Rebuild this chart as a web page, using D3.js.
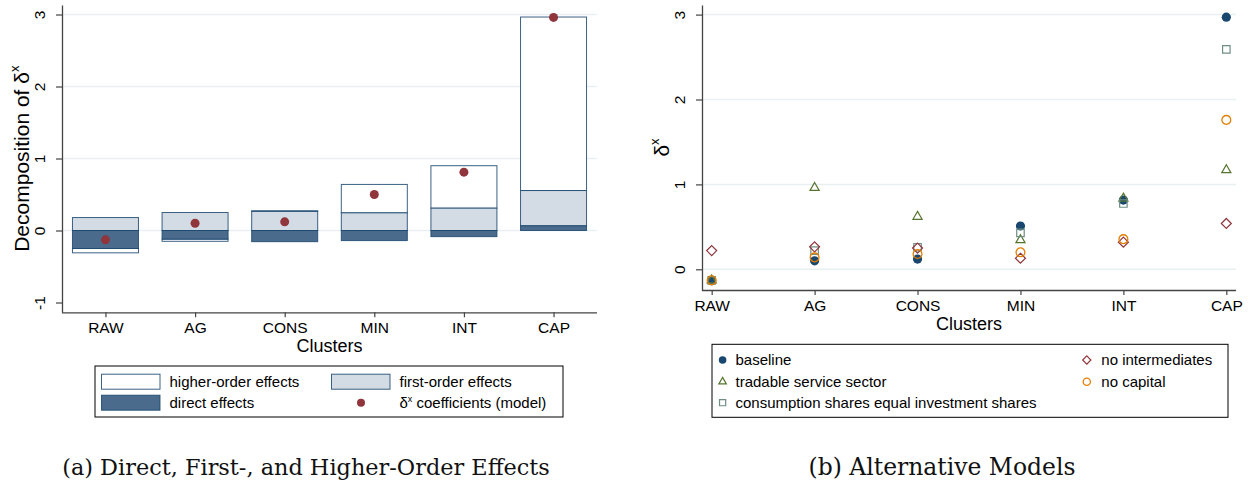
<!DOCTYPE html>
<html><head><meta charset="utf-8">
<script src="https://cdn.jsdelivr.net/npm/d3@7"></script>
<style>body{margin:0;background:#fff} svg{display:block}</style>
</head><body>
<svg id="c" width="1248" height="485"></svg>
<script>
// ---------- data ----------
const clusters = ["RAW", "AG", "CONS", "MIN", "INT", "CAP"];
// panel (a)
const directEffects      = [-0.25, -0.12, -0.155, -0.14, -0.085, 0.065];
const firstOrderEffects  = [0.18, 0.25, 0.265, 0.245, 0.31, 0.49];
const higherOrderEffects = [-0.06, -0.03, 0.01, 0.395, 0.59, 2.41];
const coefficients       = [-0.13, 0.10, 0.12, 0.50, 0.81, 2.96];
const leftYTicks = [-1, 0, 1, 2, 3];
// panel (b)
const baselineModel     = [-0.134, 0.10, 0.12, 0.51, 0.815, 2.97];
const tradableService   = [-0.13, 0.96, 0.62, 0.345, 0.835, 1.17];
const consumptionShares = [-0.13, 0.22, 0.26, 0.43, 0.775, 2.59];
const noIntermediates   = [0.22, 0.265, 0.25, 0.13, 0.32, 0.54];
const noCapital         = [-0.13, 0.14, 0.18, 0.20, 0.355, 1.76];
const rightYTicks = [0, 1, 2, 3];

// ---------- styles ----------
const FONT = "'Liberation Sans', Arial, Helvetica, sans-serif";
const SERIF = "'DejaVu Serif', 'Liberation Serif', serif";
const navy = "#1a476f", dark = "#4a6b8b", light = "#d3dce5", maroon = "#90353b";
const green = "#55752f", teal = "#6e8e84", orange = "#e37e00";
const gridCol = "#e8f0f2", axisCol = "#444";

const svg = d3.select("#c");

function styleAxis(g) {
  g.select(".domain").attr("stroke", axisCol).attr("stroke-width", 1.3);
  g.selectAll(".tick line").attr("stroke", axisCol).attr("stroke-width", 1.2);
  g.selectAll("text").attr("font-family", FONT).attr("font-size", 15.5).attr("fill", "#000");
}

function drawFrame(opts) {
  const { x, y, yTicks, gridTicks, left, bottom, yLabel, yLabelX, clustersY } = opts;
  const top = y.range()[1];
  const right = x.range()[1];
  // grid
  svg.append("g").selectAll("line").data(gridTicks).join("line")
    .attr("x1", left).attr("x2", right)
    .attr("y1", d => y(d)).attr("y2", d => y(d))
    .attr("stroke", gridCol).attr("stroke-width", 1.5);
  // y axis
  const ya = svg.append("g").attr("transform", `translate(${left},0)`)
    .call(d3.axisLeft(y).tickValues(yTicks).tickSize(6).tickSizeOuter(0).tickFormat(d => String(d)));
  styleAxis(ya);
  ya.selectAll(".tick text").attr("transform", "rotate(-90)")
    .attr("x", 0).attr("y", -17).attr("dy", 0).attr("text-anchor", "middle");
  // x axis
  const xa = svg.append("g").attr("transform", `translate(0,${bottom})`)
    .call(d3.axisBottom(x).tickSize(5).tickSizeOuter(0));
  styleAxis(xa);
  xa.select(".domain").attr("d", `M${left},0.5H${right}`);
  xa.selectAll(".tick text").attr("y", 20.5).attr("dy", 0);
  // titles
  svg.append("text").attr("x", (left + right) / 2).attr("y", clustersY)
    .attr("text-anchor", "middle").attr("font-family", FONT).attr("font-size", 18)
    .text("Clusters");
  const yl = svg.append("text")
    .attr("transform", `translate(${yLabelX},${(top + bottom) / 2}) rotate(-90)`)
    .attr("text-anchor", "middle").attr("font-family", FONT).attr("font-size", 21);
  yl.append("tspan").text(yLabel + "δ");
  yl.append("tspan").attr("dy", -10).attr("font-size", 13).text("x");
}

// ================= Panel (a) =================
const xL = d3.scalePoint().domain(clusters).range([62, 597]).padding(0.485);
const yL = d3.scaleLinear().domain([-1.136, 3.132]).range([312.3, 5]);
drawFrame({ x: xL, y: yL, yTicks: leftYTicks, gridTicks: [0, 1, 2, 3], left: 62, bottom: 312.3,
  yLabel: "Decomposition of ", yLabelX: 29, clustersY: 352 });

const layers = [
  { vals: higherOrderEffects, fill: "#ffffff" },
  { vals: firstOrderEffects, fill: light },
  { vals: directEffects, fill: dark }
];
const order = [2, 1, 0]; // stacking order from zero: direct, first, higher
const rects = [];
clusters.forEach((c, i) => {
  let pos = 0, neg = 0;
  order.forEach(li => {
    const v = layers[li].vals[i];
    let a, b;
    if (v >= 0) { a = pos; b = pos + v; pos = b; } else { a = neg; b = neg + v; neg = b; }
    rects.push({ c, a, b, fill: layers[li].fill, li });
  });
});
const barW = 66;
svg.append("g").selectAll("rect").data(rects.sort((p, q) => p.li - q.li)).join("rect")
  .attr("x", d => xL(d.c) - barW / 2).attr("width", barW)
  .attr("y", d => yL(Math.max(d.a, d.b)))
  .attr("height", d => Math.abs(yL(d.a) - yL(d.b)))
  .attr("fill", d => d.fill).attr("stroke", navy).attr("stroke-width", 1).attr("stroke-opacity", 0.85);
svg.append("g").selectAll("circle").data(coefficients).join("circle")
  .attr("cx", (d, i) => xL(clusters[i])).attr("cy", d => yL(d)).attr("r", 4.5).attr("fill", maroon);

// legend (a)
const lgA = svg.append("g");
lgA.append("rect").attr("x", 95).attr("y", 366).attr("width", 468).attr("height", 51)
  .attr("fill", "#fff").attr("stroke", "#000").attr("stroke-width", 1);
const legAItems = [
  { sw: "rect", fill: "#fff", x: 101.5, tx: 169.5, cy: 381.7, label: "higher-order effects" },
  { sw: "rect", fill: light, x: 331.5, tx: 399.5, cy: 381.7, label: "first-order effects" },
  { sw: "rect", fill: dark, x: 101.5, tx: 169.5, cy: 402.7, label: "direct effects" },
  { sw: "dot", fill: maroon, x: 361, tx: 399.5, cy: 402.7, label: "coefficients (model)", delta: true }
];
legAItems.forEach(it => {
  if (it.sw === "rect") {
    lgA.append("rect").attr("x", it.x).attr("y", it.cy - 7.5).attr("width", 58.5).attr("height", 15)
      .attr("fill", it.fill).attr("stroke", navy).attr("stroke-width", 1).attr("stroke-opacity", 0.85);
  } else {
    lgA.append("circle").attr("cx", it.x).attr("cy", it.cy).attr("r", 4).attr("fill", it.fill);
  }
  const t = lgA.append("text").attr("x", it.tx).attr("y", it.cy + 5.3)
    .attr("font-family", FONT).attr("font-size", 15);
  if (it.delta) {
    t.append("tspan").text("δ");
    t.append("tspan").attr("dy", -6).attr("font-size", 9).text("x");
    t.append("tspan").attr("dy", 6).text(" " + it.label);
  } else t.text(it.label);
});

// ================= Panel (b) =================
const xR = d3.scalePoint().domain(clusters).range([702, 1236]).padding(0.094);
const yR = d3.scaleLinear().domain([-0.2438, 3.1131]).range([290, 5]);
drawFrame({ x: xR, y: yR, yTicks: rightYTicks, gridTicks: [0, 1, 2, 3], left: 702, bottom: 290,
  yLabel: "", yLabelX: 669, clustersY: 330 });

const diamond = s => `M0,${-s}L${s},0L0,${s}L${-s},0Z`;
const series = [
  { label: "baseline", vals: baselineModel, shape: "dot", color: navy },
  { label: "tradable service sector", vals: tradableService, shape: "tri", color: green },
  { label: "consumption shares equal investment shares", vals: consumptionShares, shape: "sq", color: teal },
  { label: "no intermediates", vals: noIntermediates, shape: "dia", color: maroon },
  { label: "no capital", vals: noCapital, shape: "oc", color: orange }
];
function marker(g, shape, color, scale) {
  const k = scale || 1;
  if (shape === "dot") return g.append("circle").attr("r", 4.6 * k).attr("fill", color);
  if (shape === "oc") return g.append("circle").attr("r", 4.4 * k).attr("fill", "none").attr("stroke", color).attr("stroke-width", 1.3);
  if (shape === "sq") return g.append("path").attr("d", d3.symbol(d3.symbolSquare, 56 * k * k)()).attr("fill", "none").attr("stroke", color).attr("stroke-width", 1.2);
  if (shape === "tri") return g.append("path").attr("d", d3.symbol(d3.symbolTriangle, 36 * k * k)()).attr("fill", "none").attr("stroke", color).attr("stroke-width", 1.2);
  if (shape === "dia") return g.append("path").attr("d", diamond(5 * k)).attr("fill", "none").attr("stroke", color).attr("stroke-width", 1.2);
}
series.forEach(s => {
  const g = svg.append("g");
  s.vals.forEach((v, i) => {
    const m = g.append("g").attr("transform", `translate(${xR(clusters[i])},${yR(v)})`);
    marker(m, s.shape, s.color);
  });
});

// legend (b)
const lgB = svg.append("g");
lgB.append("rect").attr("x", 712).attr("y", 344.3).attr("width", 516).attr("height", 73)
  .attr("fill", "#fff").attr("stroke", "#000").attr("stroke-width", 1);
const legBPos = [
  { sx: 722.6, tx: 735.5, cy: 360 },
  { sx: 722.6, tx: 735.5, cy: 381.7 },
  { sx: 722.6, tx: 735.5, cy: 402.7 },
  { sx: 1086.8, tx: 1101.3, cy: 360 },
  { sx: 1086.8, tx: 1101.3, cy: 381.7 }
];
series.forEach((s, i) => {
  const p = legBPos[i];
  const m = lgB.append("g").attr("transform", `translate(${p.sx},${p.cy})`);
  marker(m, s.shape, s.color, 0.82);
  lgB.append("text").attr("x", p.tx).attr("y", p.cy + 5.3)
    .attr("font-family", FONT).attr("font-size", 15).text(s.label);
});

// ---------- captions ----------
function caption(txt, cx, width) {
  const t = svg.append("text").attr("x", cx).attr("y", 475).attr("text-anchor", "middle")
    .attr("font-family", SERIF).attr("font-size", 22).attr("fill", "#111").text(txt);
  const w = t.node().getComputedTextLength();
  if (w > 0) t.attr("font-size", 22 * width / w);
}
caption("(a) Direct, First-, and Higher-Order Effects", 306, 488);
caption("(b) Alternative Models", 942, 267);
</script>
</body></html>
